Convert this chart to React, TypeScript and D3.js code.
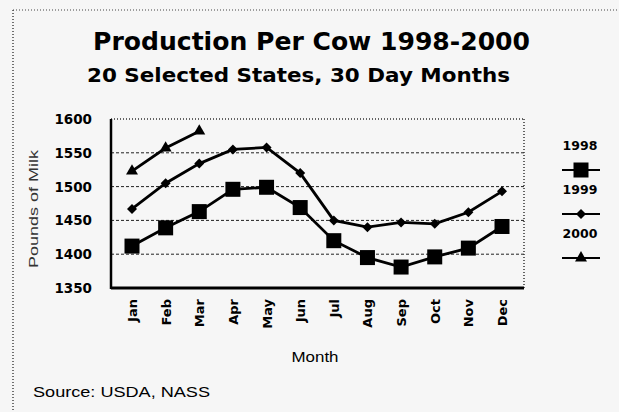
import * as d3 from 'd3';

const months = ['Jan', 'Feb', 'Mar', 'Apr', 'May', 'Jun', 'Jul', 'Aug', 'Sep', 'Oct', 'Nov', 'Dec'];
const yTicks = [1350, 1400, 1450, 1500, 1550, 1600];
const y1998 = [1412, 1439, 1463, 1496, 1499, 1469, 1420, 1395, 1381, 1396, 1409, 1441];
const y1999 = [1467, 1505, 1534, 1555, 1558, 1520, 1450, 1440, 1447, 1445, 1462, 1493];
const y2000 = [1523, 1557, 1582];
const seriesNames = ['1998', '1999', '2000'];

const W = 619;
const H = 412;
const plot = { left: 111, right: 524, top: 119, bottom: 288 };
const font = 'Arial, "Liberation Sans", sans-serif';
const wide = '"DejaVu Sans", Verdana, sans-serif';

const Marker = ({ kind, x, y }: { kind: string; x: number; y: number }) => {
  if (kind === '1998') return <rect x={x - 7.5} y={y - 7.5} width={15} height={15} fill="#000" />;
  if (kind === '1999') return <path d={`M${x},${y - 5}L${x + 5},${y}L${x},${y + 5}L${x - 5},${y}Z`} fill="#000" />;
  return <path d={d3.symbol(d3.symbolTriangle, 62)() || ''} transform={`translate(${x},${y})`} fill="#000" />;
};

const App = () => {
  const x = d3.scalePoint<string>().domain(months).range([132, 502]);
  const y = d3.scaleLinear().domain([1350, 1600]).range([plot.bottom, plot.top]);
  const line = d3.line<number>().x((_, i) => x(months[i]) || 0).y(d => y(d));
  const data = [y1998, y1999, y2000];

  return (
    <svg width={W} height={H} style={{ position: 'absolute', left: 0, top: 0 }} fontFamily={font}>
      <rect width={W} height={H} fill="#f6f6f6" />
      <line x1={13} x2={617} y1={10} y2={10} stroke="#444" strokeDasharray="1,2" />
      <line x1={13} x2={13} y1={10} y2={H} stroke="#444" strokeDasharray="1,2" strokeWidth={1.5} />

      <text x={93} y={50} fontFamily={wide} fontSize={24} fontWeight="bold" textLength={437} lengthAdjust="spacingAndGlyphs">Production Per Cow 1998-2000</text>
      <text x={87} y={82} fontFamily={wide} fontSize={19} fontWeight="bold" textLength={423} lengthAdjust="spacingAndGlyphs">20 Selected States, 30 Day Months</text>

      {/* grid */}
      {yTicks.slice(1, -1).map(t => (
        <line key={t} x1={plot.left} x2={plot.right} y1={y(t)} y2={y(t)} stroke="#222" strokeDasharray="3,2" />
      ))}
      <line x1={plot.left} x2={plot.right} y1={plot.top} y2={plot.top} stroke="#333" strokeDasharray="1,2" strokeWidth={1.5} />
      <line x1={plot.right} x2={plot.right} y1={plot.top} y2={plot.bottom} stroke="#333" strokeDasharray="1,2" strokeWidth={1.5} />
      <line x1={plot.left} x2={plot.left} y1={plot.top} y2={plot.bottom + 1} stroke="#000" strokeWidth={2.5} />
      <line x1={plot.left} x2={plot.right} y1={plot.bottom} y2={plot.bottom} stroke="#000" strokeWidth={3} />

      {/* y axis */}
      {yTicks.map(t => (
        <text key={t} x={92} y={y(t) + 5} textAnchor="end" fontFamily={wide} fontSize={13.5} fontWeight="bold">{t}</text>
      ))}
      <text transform={`translate(38,209) rotate(-90)`} textAnchor="middle" fontSize={13} fill="#333" textLength={118} lengthAdjust="spacingAndGlyphs">Pounds of Milk</text>

      {/* x axis */}
      {months.map(m => (
        <text key={m} transform={`translate(${(x(m) || 0) + 5},299) rotate(-90)`} textAnchor="end" fontFamily={wide} fontSize={13} fontWeight="bold">{m}</text>
      ))}
      <text x={315} y={362} textAnchor="middle" fontSize={15.5} textLength={47} lengthAdjust="spacingAndGlyphs">Month</text>

      {/* series */}
      {data.map((vals, si) => (
        <g key={si}>
          <path d={line(vals) || ''} fill="none" stroke="#000" strokeWidth={2.8} />
          {vals.map((v, i) => (
            <Marker key={i} kind={seriesNames[si]} x={x(months[i]) || 0} y={y(v)} />
          ))}
        </g>
      ))}

      {/* legend */}
      {seriesNames.map((n, i) => (
        <g key={n} transform={`translate(0,${i * 44})`}>
          <text x={580} y={150} textAnchor="middle" fontFamily={wide} fontSize={12.5} fontWeight="bold">{n}</text>
          <line x1={562} x2={600} y1={170} y2={170} stroke="#000" strokeWidth={2} />
          <Marker kind={n} x={581} y={170} />
        </g>
      ))}

      <text x={33} y={397} fontSize={15.5} textLength={177} lengthAdjust="spacingAndGlyphs">Source:  USDA, NASS</text>
    </svg>
  );
};

export default App;
